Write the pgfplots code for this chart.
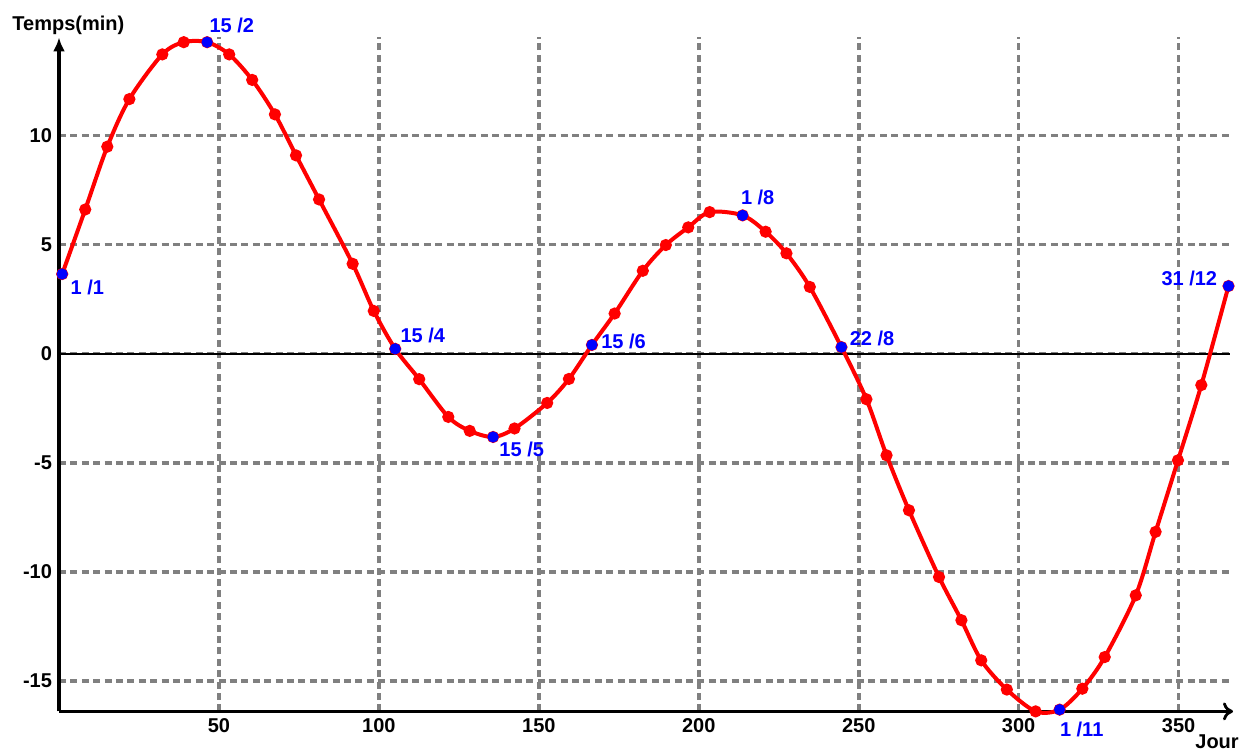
\documentclass[border=0pt]{standalone}
\usepackage{pgfplots}
\pgfplotsset{compat=1.18}
\usepackage{fontspec}
\setmainfont{Liberation Sans}
\usetikzlibrary{arrows.meta}
\definecolor{gridgray}{RGB}{128,128,128}
\definecolor{myblue}{RGB}{0,0,255}
\definecolor{myred}{RGB}{255,0,0}
\begin{document}
\begin{tikzpicture}
\begin{axis}[name=ax, scale only axis, width=587pt, height=337pt,
  xmin=0, xmax=367, ymin=-16.4, ymax=14.5,
  axis lines=left,
  axis line style={line width=1.6pt},
  x axis line style={-{To[length=5pt,width=9pt,line width=1.4pt]}},
  y axis line style={-{Latex[length=7pt,width=6pt]}},
  xtick={50,100,...,350}, ytick={-15,-10,...,10},
  grid=major,
  major grid style={gridgray, line width=1.8pt, dash pattern=on 3.5pt off 2.2pt},
  major tick length=0pt,
  tick label style={font=\bfseries},
  /pgf/number format/assume math mode=true,
  clip=false,
]
\addplot[black, line width=1.1pt, forget plot] coordinates {(0,0) (366,0)};
\addplot[myred, line width=2pt, smooth, mark=*, mark size=2pt, mark options={fill=myred}] coordinates {
(1,3.65) (8.2,6.61) (15.1,9.49) (22.0,11.67) (32.3,13.72) (39.0,14.28)
(46.3,14.28) (53.2,13.72) (60.4,12.55) (67.5,10.97) (74.1,9.09) (81.3,7.07)
(91.8,4.12) (98.4,1.96) (105.1,0.22) (112.6,-1.17) (121.7,-2.90) (128.4,-3.54)
(135.7,-3.82) (142.4,-3.43) (152.6,-2.26) (159.4,-1.16) (166.6,0.40) (173.7,1.84)
(182.5,3.80) (189.7,4.98) (196.7,5.79) (203.4,6.49) (213.7,6.34) (220.9,5.59)
(227.4,4.60) (234.7,3.06) (244.6,0.30) (252.4,-2.09) (258.7,-4.66) (265.7,-7.18)
(275.1,-10.24) (282.1,-12.22) (288.3,-14.06) (296.3,-15.40) (305.3,-16.40)
(312.8,-16.32) (319.9,-15.36) (326.9,-13.91) (336.6,-11.08) (342.8,-8.17)
(349.8,-4.89) (357.1,-1.44) (365.6,3.10)
};
\addplot[only marks, myblue, mark=*, mark size=2.6pt, mark options={fill=myblue}] coordinates {
(1,3.65) (46.3,14.28) (105.1,0.22) (135.7,-3.82) (166.6,0.40) (213.7,6.34)
(244.6,0.30) (312.8,-16.32) (365.6,3.10)
};
\begin{scope}[every node/.style={font=\bfseries, text=myblue, inner sep=0pt}]
\node[anchor=north west, xshift=4pt, yshift=-3pt] at (axis cs:1,3.65) {1 /1};
\node[anchor=south west, xshift=1pt, yshift=4.5pt] at (axis cs:46.3,14.28) {15 /2};
\node[anchor=south west, xshift=2.5pt, yshift=3pt] at (axis cs:105.1,0.22) {15 /4};
\node[anchor=north west, xshift=3pt, yshift=-2.5pt] at (axis cs:135.7,-3.82) {15 /5};
\node[anchor=west, xshift=4.5pt, yshift=1.75pt] at (axis cs:166.6,0.40) {15 /6};
\node[anchor=south west, xshift=-1pt, yshift=5pt] at (axis cs:213.7,6.34) {1 /8};
\node[anchor=south west, xshift=4pt, yshift=0.5pt] at (axis cs:244.6,0.30) {22 /8};
\node[anchor=north west, xshift=0pt, yshift=-6pt] at (axis cs:312.8,-16.32) {1 /11};
\node[anchor=south east, xshift=-5.5pt, yshift=0pt] at (axis cs:365.6,3.10) {31 /12};
\end{scope}
\end{axis}
\node[anchor=west, font=\bfseries, inner sep=0pt] at ([shift={(-23.5pt,6.2pt)}]ax.north west) {Temps(min)};
\node[anchor=north west, font=\bfseries, inner sep=0pt] at ([shift={(-19pt,-11.5pt)}]ax.south east) {Jour};
\pgfresetboundingbox
\useasboundingbox ([shift={(-29.5pt,-20pt)}]ax.south west) rectangle ([shift={(3pt,18.7pt)}]ax.north east);
\end{tikzpicture}
\end{document}
